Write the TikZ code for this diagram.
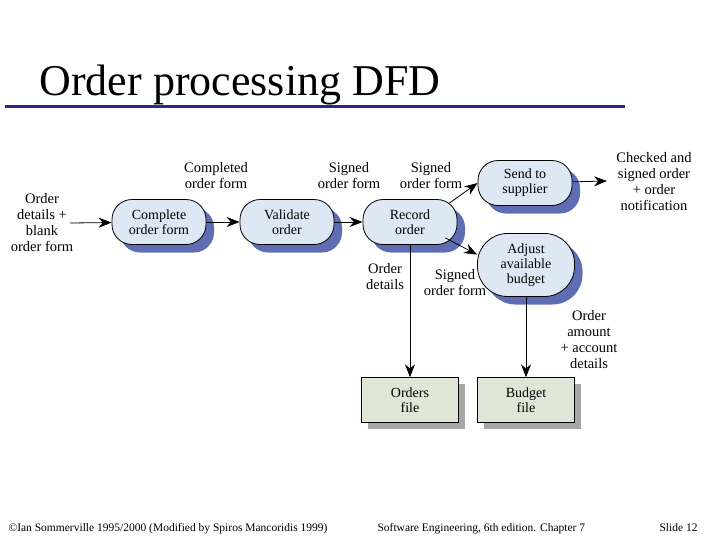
\documentclass[tikz,border=0pt]{standalone}
\usepackage{fontspec}
\setmainfont{Liberation Serif}
\usetikzlibrary{arrows.meta,positioning,shadows}

\definecolor{procfill}{RGB}{222,232,245}
\definecolor{procshadow}{RGB}{95,110,180}
\definecolor{storefill}{RGB}{222,230,214}
\definecolor{titleline}{RGB}{40,40,140}

\tikzset{
    proc/.style={draw, thick, rounded corners=20pt, fill=procfill, minimum width=94pt,
        minimum height=45pt, align=center, font=\fontsize{14}{15}\selectfont,
        drop shadow={shadow xshift=8pt, shadow yshift=-8pt, fill=procshadow, opacity=1}},
    store/.style={draw, fill=storefill, minimum width=97pt, minimum height=45pt, align=center,
        font=\fontsize{14}{15.5}\selectfont,
        drop shadow={shadow xshift=6pt, shadow yshift=-6pt, fill=gray!70, opacity=1}},
    lbl/.style={align=center, font=\fontsize{14.5}{16}\selectfont},
    flow/.style={thick, -{Stealth[length=13pt,width=10pt]}}
}

\begin{document}
\begin{tikzpicture}[x=1pt,y=-1pt]
    \useasboundingbox (0,0) rectangle (717,538);

    \node[anchor=base west, font=\fontsize{44}{44}\selectfont] (title) at (36,95) {Order processing DFD};
    \draw[titleline, line width=3pt] (5,106) -- (625,106);

    \node[proc] (complete) at (159,222) {Complete\\order form};
    \node[proc] (validate) at (287,222) {Validate\\order};
    \node[proc] (record) at (410,222) {Record\\order};
    \node[proc] (send) at (525,183) {Send to\\supplier};
    \node[proc, rounded corners=30pt, minimum width=97pt, minimum height=63pt] (adjust) at (526,265) {Adjust\\available\\budget};
    \node[store] (orders) at (410,400) {Orders\\file};
    \node[store] (budget) at (526,400) {Budget\\file};

    \node[lbl] (input) at (42,223) {Order\\details +\\blank\\order form};
    \coordinate (inend) at (70,223);
    \node[lbl] (completed) at (216,176) {Completed\\order form};
    \node[lbl] (signed1) at (349,176) {Signed\\order form};
    \node[lbl] (signed2) at (431,176) {Signed\\order form};
    \node[lbl] (checked) at (654,182) {Checked and\\signed order\\+ order\\notification};
    \coordinate (outend) at (607,181);
    \node[lbl] (details) at (385,277) {Order\\details};
    \node[lbl] (signed3) at (455,283) {Signed\\order form};
    \node[lbl] (amount) at (589,340) {Order\\amount\\+ account\\details};

    % flows
    \draw[flow] (record.north east) ++(-8,4) -- (send.west);
    \draw[flow] (record.south east) ++(-12,-7) -- (adjust.168);
    \draw[flow] (inend) -- (complete);
    \draw[flow] (complete) -- (validate);
    \draw[flow] (validate) -- (record);
    \draw[flow] (send) -- (outend);
    \draw[flow] (record) -- (orders);
    \draw[flow] (adjust) -- (budget);

    \node[anchor=base west, font=\fontsize{11.5}{12}\selectfont] (copy) at (5,531) {\textcopyright Ian Sommerville 1995/2000 (Modified by Spiros Mancoridis 1999)};
    \node[anchor=base west, font=\fontsize{11.5}{12}\selectfont] (book) at (374,531) {Software Engineering, 6th edition. Chapter 7};
    \node[anchor=base west, font=\fontsize{11.5}{12}\selectfont] (slide) at (656,531) {Slide 12};
\end{tikzpicture}
\end{document}
